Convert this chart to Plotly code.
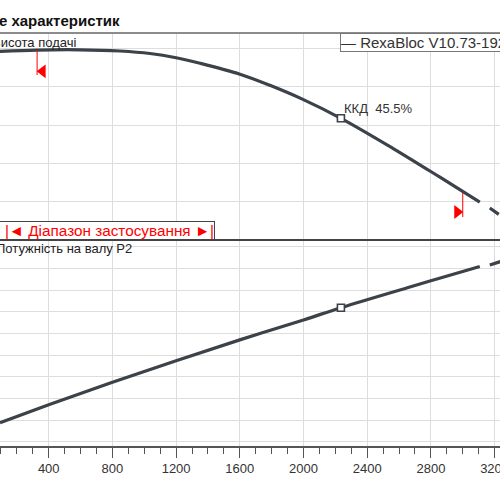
import plotly.graph_objects as go

# ---- data ----
flow_head = [94, 327, 597, 848, 1036, 1200, 1350, 1601, 1789, 1996, 2235, 2561, 2857, 3107]
head = [89.20, 89.55, 89.62, 89.30, 88.65, 87.55, 86.10, 83.25, 80.35, 76.68, 71.75, 63.93, 56.38, 49.88]
flow_power = [94, 400, 800, 1200, 1600, 2000, 2235, 2668, 3032, 3107]
power = [11.75, 13.40, 15.48, 17.48, 19.40, 21.24, 22.37, 24.28, 25.85, 26.17]
flow_ext = [3170, 3300]
head_ext = [48.35, 44.5]
power_ext = [26.31, 26.93]
duty_flow = 2235
duty_head = 71.75
duty_power = 22.37
eff_label = "ККД  45.5%"
range_limits = [327, 3000]
limit_line_left = [89.5, 83.05]
limit_line_right = [52.3, 46.0]
limit_tri_y = [84.0, 47.3]
x_ticks = [0, 400, 800, 1200, 1600, 2000, 2400, 2800, 3200]
title_text = "Поле характеристик"
head_label = "Висота подачі"
power_label = "Потужність на валу P2"
legend_text = "— RexaBloc V10.73-192/4 "
range_text = "|◄ Діапазон застосування ►|"

CURVE = "#3b424a"
RED = "#ff0000"
GRID = "#dddddd"
FONT = "Liberation Sans, Arial, sans-serif"
PX_PER_UNIT = 500 / (3234 - 94)

fig = go.Figure()

# head curve (top panel)
fig.add_trace(go.Scatter(x=flow_head, y=head, mode="lines", line=dict(color=CURVE, width=3.2, shape="spline", smoothing=1.0),
                         xaxis="x2", yaxis="y2", showlegend=False, hoverinfo="skip"))
fig.add_trace(go.Scatter(x=flow_ext, y=head_ext, mode="lines", line=dict(color=CURVE, width=3.2, dash="11px,8px"),
                         xaxis="x2", yaxis="y2", showlegend=False, hoverinfo="skip"))
# power curve (bottom panel)
fig.add_trace(go.Scatter(x=flow_power, y=power, mode="lines", line=dict(color=CURVE, width=3.2, shape="spline", smoothing=1.0),
                         xaxis="x", yaxis="y", showlegend=False, hoverinfo="skip"))
fig.add_trace(go.Scatter(x=flow_ext, y=power_ext, mode="lines", line=dict(color=CURVE, width=3.2, dash="11px,8px"),
                         xaxis="x", yaxis="y", showlegend=False, hoverinfo="skip"))
# duty point markers
fig.add_trace(go.Scatter(x=[duty_flow], y=[duty_head], mode="markers",
                         marker=dict(symbol="square", size=7, color="white", line=dict(color=CURVE, width=1.6)),
                         xaxis="x2", yaxis="y2", showlegend=False, hoverinfo="skip"))
fig.add_trace(go.Scatter(x=[duty_flow], y=[duty_power], mode="markers",
                         marker=dict(symbol="square", size=7, color="white", line=dict(color=CURVE, width=1.6)),
                         xaxis="x", yaxis="y", showlegend=False, hoverinfo="skip"))
# operating range limits (red)
fig.add_trace(go.Scatter(x=[range_limits[0]] * 2, y=limit_line_left, mode="lines", line=dict(color=RED, width=1),
                         xaxis="x2", yaxis="y2", showlegend=False, hoverinfo="skip"))
fig.add_trace(go.Scatter(x=[range_limits[1]] * 2, y=limit_line_right, mode="lines", line=dict(color=RED, width=1),
                         xaxis="x2", yaxis="y2", showlegend=False, hoverinfo="skip"))
fig.add_trace(go.Scatter(x=[range_limits[0] + 5.5 / PX_PER_UNIT], y=[limit_tri_y[0]], mode="markers",
                         marker=dict(symbol="triangle-left", size=12, color=RED),
                         xaxis="x2", yaxis="y2", showlegend=False, hoverinfo="skip"))
fig.add_trace(go.Scatter(x=[range_limits[1] - 5.5 / PX_PER_UNIT], y=[limit_tri_y[1]], mode="markers",
                         marker=dict(symbol="triangle-right", size=12, color=RED),
                         xaxis="x2", yaxis="y2", showlegend=False, hoverinfo="skip"))

split = 206 / 413

axis_common = dict(range=[94, 3234], tickmode="array", tickvals=x_ticks, showgrid=True, gridcolor=GRID, gridwidth=1,
                   zeroline=False, automargin=False)

fig.update_layout(
    width=500, height=500,
    margin=dict(l=0, r=0, t=33, b=54),
    paper_bgcolor="white", plot_bgcolor="white",
    template="none",
    showlegend=False,
    xaxis=dict(**axis_common, anchor="y", showline=True, linecolor="#555555", linewidth=1.5,
               ticks="outside", ticklen=10, tickcolor="#555555", tickwidth=1, ticklabeloverflow="allow",
               minor=dict(dtick=100, tick0=0, ticks="outside", ticklen=6, tickcolor="#555555", showgrid=False),
               tickfont=dict(family=FONT, size=13, color="#333333")),
    xaxis2=dict(**axis_common, anchor="y2", matches="x", showticklabels=False, ticks="", showline=False),
    yaxis=dict(domain=[0, split], range=[9.60, 28.62], tick0=0, dtick=2, showgrid=True, gridcolor=GRID,
               showticklabels=False, ticks="", zeroline=False, showline=False, automargin=False),
    yaxis2=dict(domain=[split, 1], range=[40, 94.0], tick0=0, dtick=10, showgrid=True, gridcolor=GRID,
                showticklabels=False, ticks="", zeroline=False, showline=False, automargin=False),
    shapes=[
        dict(type="line", xref="paper", yref="paper", x0=0, x1=1, y0=1, y1=1, line=dict(color="#666666", width=1.5)),
        dict(type="line", xref="paper", yref="paper", x0=0, x1=1, y0=split, y1=split, line=dict(color="#444444", width=2)),
    ],
)

annotations = [
    dict(text=f"<b>{title_text}</b>", xref="paper", yref="paper", x=122 / 500, y=(446 - 21) / 413,
         xanchor="right", yanchor="middle", showarrow=False, font=dict(family=FONT, size=15, color="#111111")),
    dict(text=head_label, xref="paper", yref="paper", x=78 / 500, y=(446 - 42.5) / 413,
         xanchor="right", yanchor="middle", showarrow=False, font=dict(family=FONT, size=13, color="#222222")),
    dict(text=power_label, xref="paper", yref="paper", x=134 / 500, y=(446 - 248.3) / 413,
         xanchor="right", yanchor="middle", showarrow=False, font=dict(family=FONT, size=13, color="#222222")),
    dict(text=legend_text, xref="paper", yref="paper", x=340 / 500, y=1, xanchor="left", yanchor="top",
         showarrow=False, bgcolor="white", bordercolor="#777777", borderwidth=1, borderpad=0,
         font=dict(family=FONT, size=15, color="#333333")),
    dict(text=range_text, xref="paper", yref="paper", x=215 / 500, y=split, xanchor="right", yanchor="bottom",
         width=222, align="right",
         showarrow=False, bgcolor="white", bordercolor="#444444", borderwidth=1, borderpad=0,
         font=dict(family=FONT, size=15.3, color=RED)),
    dict(text=eff_label, xref="x2", yref="y2", x=duty_flow, y=74.2, xanchor="left", yanchor="middle",
         showarrow=False, xshift=1, font=dict(family=FONT, size=13, color="#333333")),
]
fig.update_layout(annotations=annotations)

fig.write_html("out.html")
